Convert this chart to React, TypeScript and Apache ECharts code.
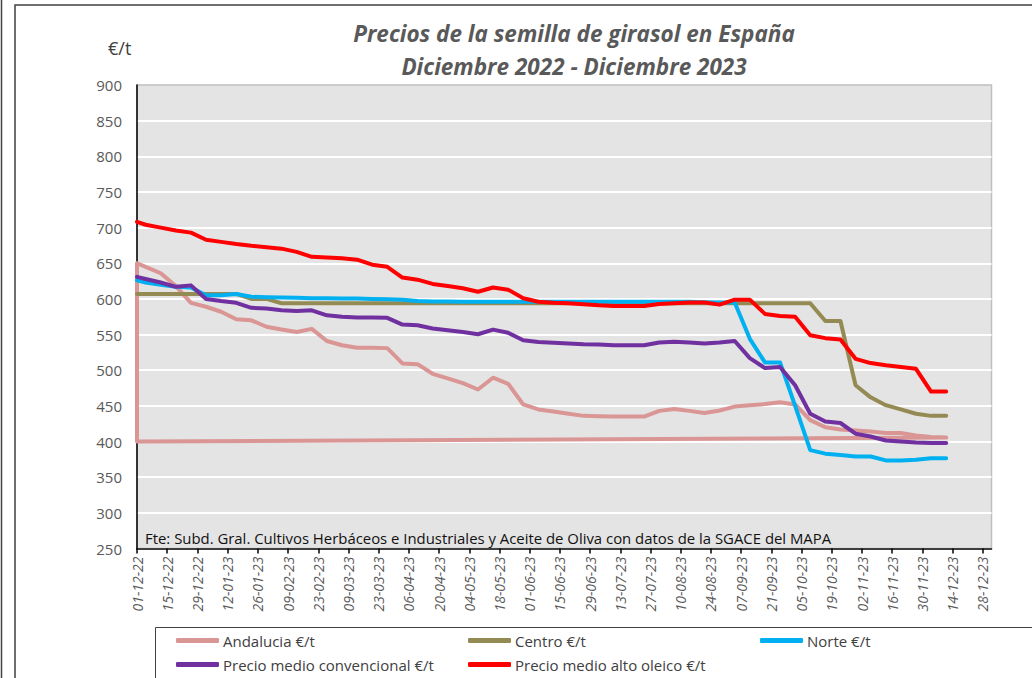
import React, { useEffect, useRef } from "react";
import * as echarts from "echarts";

const dates: string[] = [
  "01-12-22", "05-12-22", "12-12-22", "19-12-22", "26-12-22",
  "02-01-23", "09-01-23", "16-01-23", "23-01-23", "30-01-23",
  "06-02-23", "13-02-23", "20-02-23", "27-02-23",
  "06-03-23", "13-03-23", "20-03-23", "27-03-23",
  "03-04-23", "10-04-23", "17-04-23", "24-04-23",
  "01-05-23", "08-05-23", "15-05-23", "22-05-23", "29-05-23",
  "05-06-23", "12-06-23", "19-06-23", "26-06-23",
  "03-07-23", "10-07-23", "17-07-23", "24-07-23", "31-07-23",
  "07-08-23", "14-08-23", "21-08-23", "28-08-23",
  "04-09-23", "11-09-23", "18-09-23", "25-09-23",
  "02-10-23", "09-10-23", "16-10-23", "23-10-23", "30-10-23",
  "06-11-23", "13-11-23", "20-11-23", "27-11-23",
  "04-12-23", "11-12-23",
];

const andalucia: number[] = [
  650, 645, 636, 618, 594.5, 589, 582, 571.5, 570, 561,
  557, 553.5, 558, 541, 535, 531.5, 531.5, 531, 509.5, 508.5,
  495, 488.5, 482, 473, 489.5, 481, 452, 445, 442, 439,
  436, 435.5, 435, 435, 435, 443, 445.5, 443, 440, 443.5,
  449, 451, 452.5, 455, 452, 430, 420, 417, 415.5, 414,
  412, 412, 408.5, 406.5, 405.5,
];
// Andalucia series returns to the start date at the end (as in the source chart)
const andaluciaClosing: [string, number][] = [
  ["01-12-22", 400],
  ["01-12-22", 650],
];

const centro: number[] = [
  607, 607, 607, 607, 607, 607, 607, 607, 600, 600,
  594, 594, 594, 594, 594, 594, 594, 594, 594, 594,
  594, 594, 594, 594, 594, 594, 594, 594, 594, 594,
  594, 594, 594, 594, 594, 594, 594, 594, 594, 594,
  594, 594, 594, 594, 594, 594, 569, 569, 479, 462,
  451, 445, 439, 436, 436,
];

const norte: number[] = [
  626, 623, 620, 617, 616, 605, 605, 607, 603, 602.5,
  602, 601.5, 601, 601, 600.5, 600.5, 600, 599.5, 599, 597,
  596.5, 596.5, 596, 596, 596, 596, 596, 596, 596, 596,
  596, 596, 596, 596, 596, 596, 596, 596, 595.5, 595,
  595, 544, 511, 511, 450, 388, 383, 381, 379, 379,
  373.5, 373.5, 374.5, 376.5, 376.5,
];

const convencional: number[] = [
  631, 628, 623, 617, 619, 600, 597, 594.5, 587.5, 586.5,
  584, 583, 584, 577, 575, 574, 574, 573.5, 564, 563,
  558.5, 556, 553.5, 550.5, 557, 552.5, 542, 539.5, 538.5, 537.5,
  536.5, 536, 535, 535, 535, 539, 540, 539, 537.5, 539,
  541, 517, 503, 504.5, 479, 439, 428, 426, 411, 407,
  401.5, 400, 398.5, 398, 398,
];

const altoOleico: number[] = [
  708, 704, 700, 696, 693, 683, 680, 677, 674.5, 672.5,
  670.5, 666, 659, 658, 657, 655, 648, 645, 630, 627,
  621, 618, 615, 610, 616, 613, 601, 596, 594.5, 594,
  592.5, 591, 590, 590, 590, 593, 594, 595, 595, 592,
  599, 599, 579, 576, 575, 549, 545, 543, 516, 510,
  507, 504.5, 502, 470, 470,
];

const tickLabels: string[] = [
  "01-12-22", "15-12-22", "29-12-22", "12-01-23", "26-01-23", "09-02-23",
  "23-02-23", "09-03-23", "23-03-23", "06-04-23", "20-04-23", "04-05-23",
  "18-05-23", "01-06-23", "15-06-23", "29-06-23", "13-07-23", "27-07-23",
  "10-08-23", "24-08-23", "07-09-23", "21-09-23", "05-10-23", "19-10-23",
  "02-11-23", "16-11-23", "30-11-23", "14-12-23", "28-12-23",
];

const axisStart = "01-12-22";
const axisEnd = "01-01-24";
const yMin = 250;
const yMax = 900;
const yStep = 50;

const titleLines = [
  "Precios de la semilla de girasol en España",
  "Diciembre 2022 - Diciembre 2023",
];
const unitLabel = "€/t";
const sourceNote =
  "Fte: Subd. Gral. Cultivos Herbáceos e Industriales y Aceite de Oliva con datos de la SGACE del MAPA";

const seriesNames = [
  "Andalucia €/t",
  "Centro €/t",
  "Norte €/t",
  "Precio medio convencional €/t",
  "Precio medio alto oleico €/t",
];
const seriesColors = ["#DA9694", "#948A54", "#00B0F0", "#7030A0", "#FF0000"];

function toTs(s: string): number {
  const [d, m, y] = s.split("-").map(Number);
  return Date.UTC(2000 + y, m - 1, d);
}
function fmt(ts: number): string {
  const dt = new Date(ts);
  const dd = String(dt.getUTCDate()).padStart(2, "0");
  const mm = String(dt.getUTCMonth() + 1).padStart(2, "0");
  const yy = String(dt.getUTCFullYear() % 100).padStart(2, "0");
  return `${dd}-${mm}-${yy}`;
}

const labelFont = "'Open Sans', sans-serif";
const legendFont = "'Open Sans', sans-serif";

export default function App() {
  const ref = useRef<HTMLDivElement>(null);
  useEffect(() => {
    if (!ref.current) return;
    const chart = echarts.init(ref.current, undefined, { renderer: "svg" });
    const values = [andalucia, centro, norte, convencional, altoOleico];
    const series = values.map((vals, i) => {
      const data: [number, number][] = dates.map((d, j) => [toTs(d), vals[j]]);
      if (i === 0) andaluciaClosing.forEach(([d, v]) => data.push([toTs(d), v]));
      return {
        type: "line",
        name: seriesNames[i],
        data,
        symbol: "none",
        showSymbol: false,
        clip: true,
        z: 2 + i,
        lineStyle: { width: 4, color: seriesColors[i], cap: "round", join: "round" },
        itemStyle: { color: seriesColors[i] },
      };
    });
    const tickValues = tickLabels.map(toTs);
    const legendPos = [
      [176, 633],
      [468, 633],
      [760, 633],
      [176, 657],
      [468, 657],
    ];
    const titleStyle = {
      fontSize: 22.5,
      fontWeight: "bold",
      fontStyle: "italic",
      fontFamily: labelFont,
      fill: "#595959",
      align: "center",
      verticalAlign: "middle",
    };
    const option: any = {
      animation: false,
      backgroundColor: "#ffffff",
      grid: {
        left: 137,
        right: 40.5,
        top: 85,
        bottom: 129.5,
        show: true,
        backgroundColor: "#E4E4E4",
        borderColor: "#BFBFBF",
        borderWidth: 1.5,
      },
      xAxis: {
        type: "value",
        min: toTs(axisStart),
        max: toTs(axisEnd),
        axisLine: { show: true, onZero: false, lineStyle: { color: "#000", width: 1.5 } },
        axisTick: {
          show: true,
          length: 5,
          customValues: tickValues,
          lineStyle: { color: "#000", width: 1.5 },
        },
        splitLine: { show: false },
        axisLabel: {
          customValues: tickValues,
          rotate: 90,
          margin: 8,
          fontStyle: "italic",
          fontSize: 14,
          fontFamily: labelFont,
          color: "#595959",
          formatter: (v: number) => fmt(v),
        },
      },
      yAxis: {
        type: "value",
        min: yMin,
        max: yMax,
        interval: yStep,
        axisLine: { show: true, lineStyle: { color: "#000", width: 1.5 } },
        axisTick: { show: false },
        splitLine: { show: true, showMaxLine: false, lineStyle: { color: "#ffffff", width: 2 } },
        axisLabel: {
          fontSize: 15,
          fontFamily: labelFont,
          color: "#595959",
          margin: 15,
        },
      },
      legend: seriesNames.map((n, i) => ({
        data: [n],
        left: legendPos[i][0],
        top: legendPos[i][1],
        icon: "roundRect",
        itemWidth: 43,
        itemHeight: 5,
        itemGap: 0,
        padding: 0,
        selectedMode: false,
        textStyle: { fontSize: 15, fontFamily: legendFont, color: "#404040", padding: [0, 0, 0, -1] },
      })),
      graphic: [
        {
          type: "rect",
          shape: { x: 15, y: 5, width: 1100, height: 800 },
          style: { fill: "none", stroke: "#404040", lineWidth: 1.5 },
          silent: true,
          z: 0,
        },
        {
          type: "line",
          shape: { x1: 1.5, y1: 0, x2: 1.5, y2: 678 },
          style: { stroke: "#404040", lineWidth: 1.5 },
          silent: true,
        },
        {
          type: "rect",
          shape: { x: 155.5, y: 627.5, width: 1000, height: 100 },
          style: { fill: "none", stroke: "#404040", lineWidth: 1 },
          silent: true,
        },
        { type: "text", x: 574, y: 33, style: { ...titleStyle, text: titleLines[0] } },
        { type: "text", x: 574, y: 66, style: { ...titleStyle, text: titleLines[1] } },
        {
          type: "text",
          x: 108,
          y: 48,
          style: {
            text: unitLabel,
            fontSize: 18,
            fontFamily: labelFont,
            fill: "#404040",
            align: "left",
            verticalAlign: "middle",
          },
        },
        {
          type: "text",
          x: 145,
          y: 538,
          z: 50,
          style: {
            text: sourceNote,
            fontSize: 14.9,
            fontFamily: labelFont,
            fill: "#111111",
            align: "left",
            verticalAlign: "middle",
          },
        },
      ],
      series,
    };
    chart.setOption(option);
    return () => chart.dispose();
  }, []);
  return (
    <div
      ref={ref}
      style={{ position: "fixed", left: 0, top: 0, width: 1032, height: 678, background: "#fff" }}
    />
  );
}
